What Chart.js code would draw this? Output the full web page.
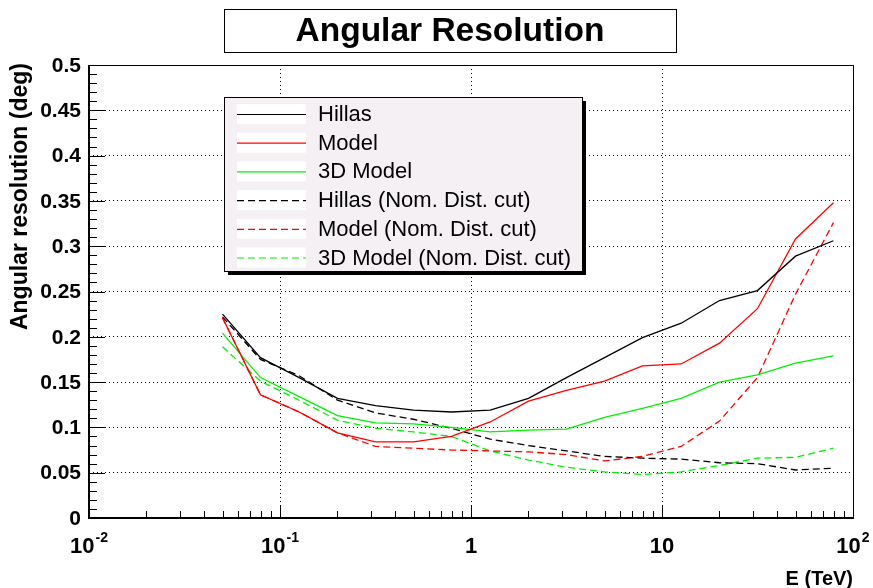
<!DOCTYPE html>
<html>
<head>
<meta charset="utf-8">
<script src="https://cdn.jsdelivr.net/npm/chart.js@4.4.0/dist/chart.umd.min.js"></script>
<style>
  html, body { margin: 0; padding: 0; background: #fff; }
  canvas { display: block; }
</style>
</head>
<body>
<canvas id="chart" width="873" height="588"></canvas>
<script>
// energy bins (TeV), 5 per decade
const energies = [0.05, 0.079, 0.126, 0.2, 0.316, 0.5, 0.79, 1.26, 2, 3.16, 5, 7.9, 12.6, 20, 31.6, 50, 79];

const hillas      = [0.225, 0.177, 0.155, 0.132, 0.124, 0.119, 0.117, 0.119, 0.132, 0.155, 0.177, 0.199, 0.215, 0.240, 0.251, 0.289, 0.306];
const model       = [0.221, 0.136, 0.117, 0.094, 0.084, 0.084, 0.090, 0.106, 0.129, 0.141, 0.151, 0.168, 0.170, 0.193, 0.231, 0.308, 0.348];
const model3d     = [0.204, 0.155, 0.134, 0.113, 0.105, 0.104, 0.100, 0.095, 0.097, 0.098, 0.111, 0.121, 0.132, 0.150, 0.158, 0.171, 0.179];
const hillasCut   = [0.222, 0.175, 0.157, 0.130, 0.116, 0.109, 0.099, 0.087, 0.080, 0.074, 0.068, 0.066, 0.065, 0.061, 0.060, 0.053, 0.055];
const modelCut    = [0.221, 0.136, 0.117, 0.094, 0.079, 0.077, 0.075, 0.074, 0.073, 0.070, 0.063, 0.068, 0.079, 0.107, 0.155, 0.247, 0.326];
const model3dCut  = [0.189, 0.151, 0.130, 0.108, 0.099, 0.095, 0.090, 0.074, 0.064, 0.056, 0.051, 0.048, 0.051, 0.058, 0.066, 0.067, 0.077];

const seriesNames = ['Hillas', 'Model', '3D Model', 'Hillas (Nom. Dist. cut)', 'Model (Nom. Dist. cut)', '3D Model (Nom. Dist. cut)'];

const yTicks = [0, 0.05, 0.1, 0.15, 0.2, 0.25, 0.3, 0.35, 0.4, 0.45, 0.5];
const yTickLabels = ['0', '0.05', '0.1', '0.15', '0.2', '0.25', '0.3', '0.35', '0.4', '0.45', '0.5'];
const xTicks = [0.01, 0.1, 1, 10, 100];
const xTickLabels = [['10', '-2'], ['10', '-1'], ['1', ''], ['10', ''], ['10', '2']];

const DASH = [7, 4];

function pts(vals) {
    return energies.map((e, i) => ({ x: e, y: vals[i] }));
}

function line(label, vals, color, dashed) {
    return {
        label: label,
        data: pts(vals),
        borderColor: color,
        borderWidth: 1.3,
        borderDash: dashed ? DASH : [],
        pointRadius: 0,
        fill: false,
        tension: 0
    };
}

const rootStyle = {
    id: 'rootStyle',
    beforeDraw(chart) {
        const ctx = chart.ctx;
        ctx.save();
        ctx.fillStyle = '#fff';
        ctx.fillRect(0, 0, chart.width, chart.height);
        ctx.restore();
    },
    afterDraw(chart) {
        const ctx = chart.ctx;
        const xs = chart.scales.x, ys = chart.scales.y;
        const a = chart.chartArea;
        ctx.save();

        // frame
        ctx.strokeStyle = '#000';
        ctx.lineWidth = 1;
        ctx.strokeRect(Math.round(a.left) + 0.5, Math.round(a.top) + 0.5,
                       Math.round(a.right - a.left), Math.round(a.bottom - a.top));
        ctx.lineWidth = 2;
        ctx.beginPath();
        ctx.moveTo(a.left, a.top);
        ctx.lineTo(a.left, a.bottom);
        ctx.lineTo(a.right, a.bottom);
        ctx.stroke();

        // tick marks
        ctx.lineWidth = 1;
        ctx.beginPath();
        for (let i = 0; i < yTicks.length; i++) {
            const y = Math.round(ys.getPixelForValue(yTicks[i])) + 0.5;
            ctx.moveTo(a.left, y); ctx.lineTo(a.left + 16, y);
            if (i < yTicks.length - 1) {
                const step = (yTicks[i + 1] - yTicks[i]) / 5;
                for (let k = 1; k < 5; k++) {
                    const ym = Math.round(ys.getPixelForValue(yTicks[i] + k * step)) + 0.5;
                    ctx.moveTo(a.left, ym); ctx.lineTo(a.left + 8, ym);
                }
            }
        }
        for (let i = 0; i < xTicks.length; i++) {
            const x = Math.round(xs.getPixelForValue(xTicks[i])) + 0.5;
            ctx.moveTo(x, a.bottom); ctx.lineTo(x, a.bottom - 13);
            if (i < xTicks.length - 1) {
                for (let m = 2; m < 10; m++) {
                    const xm = Math.round(xs.getPixelForValue(xTicks[i] * m)) + 0.5;
                    ctx.moveTo(xm, a.bottom); ctx.lineTo(xm, a.bottom - 7);
                }
            }
        }
        ctx.stroke();

        // tick labels
        ctx.fillStyle = '#000';
        ctx.font = 'bold 21px "Liberation Sans", Arial, sans-serif';
        ctx.textAlign = 'right';
        ctx.textBaseline = 'middle';
        yTicks.forEach((v, i) => {
            ctx.fillText(yTickLabels[i], a.left - 8, ys.getPixelForValue(v) + 1);
        });
        const baseFont = 'bold 22px "Liberation Sans", Arial, sans-serif';
        const supFont = 'bold 14px "Liberation Sans", Arial, sans-serif';
        ctx.textAlign = 'left';
        ctx.textBaseline = 'alphabetic';
        xTicks.forEach((v, i) => {
            const [base, sup] = xTickLabels[i];
            ctx.font = baseFont;
            const wb = ctx.measureText(base).width;
            ctx.font = supFont;
            const ws = sup ? ctx.measureText(sup).width + 1 : 0;
            const x0 = xs.getPixelForValue(v) - (wb + ws) / 2;
            const yb = a.bottom + 35;
            ctx.font = baseFont;
            ctx.fillText(base, x0, yb);
            if (sup) {
                ctx.font = supFont;
                ctx.fillText(sup, x0 + wb + 1, yb - 11);
            }
        });

        // axis titles
        ctx.font = 'bold 20px "Liberation Sans", Arial, sans-serif';
        ctx.textAlign = 'right';
        ctx.fillText('E (TeV)', a.right, a.bottom + 67);
        ctx.save();
        ctx.translate(27, a.top - 2);
        ctx.rotate(-Math.PI / 2);
        ctx.textAlign = 'right';
        ctx.font = 'bold 23px "Liberation Sans", Arial, sans-serif';
        ctx.fillText('Angular resolution (deg)', 0, 0);
        ctx.restore();

        // title box
        ctx.fillStyle = '#fff';
        ctx.fillRect(224, 9, 452, 43);
        ctx.strokeStyle = '#000';
        ctx.lineWidth = 1;
        ctx.strokeRect(224.5, 9.5, 452, 43);
        ctx.fillStyle = '#000';
        ctx.font = 'bold 33.5px "Liberation Sans", Arial, sans-serif';
        ctx.textAlign = 'center';
        ctx.textBaseline = 'middle';
        ctx.fillText('Angular Resolution', 450, 32);

        // legend
        const lx = 224, ly = 97, lw = 358, lh = 174;
        ctx.fillStyle = '#000';
        ctx.fillRect(lx + 4, ly + 4, lw, lh);
        ctx.fillStyle = '#f4f0f4';
        ctx.fillRect(lx, ly, lw, lh);
        ctx.strokeRect(lx + 0.5, ly + 0.5, lw, lh);
        ctx.font = '22px "Liberation Sans", Arial, sans-serif';
        ctx.textAlign = 'left';
        chart.data.datasets.forEach((ds, i) => {
            const cy = ly + 17 + i * 28.7;
            ctx.fillStyle = '#fff';
            ctx.fillRect(lx + 13, cy - 10, 69, 20);
            ctx.strokeStyle = ds.borderColor;
            ctx.lineWidth = 1.2;
            ctx.setLineDash(ds.borderDash);
            ctx.beginPath();
            ctx.moveTo(lx + 13, cy + 0.5);
            ctx.lineTo(lx + 82, cy + 0.5);
            ctx.stroke();
            ctx.setLineDash([]);
            ctx.fillStyle = '#000';
            ctx.fillText(ds.label, lx + 94, cy + 1);
        });

        ctx.restore();
    }
};

new Chart(document.getElementById('chart').getContext('2d'), {
    type: 'line',
    data: {
        datasets: [
            line(seriesNames[0], hillas, '#000000', false),
            line(seriesNames[1], model, '#ff0000', false),
            line(seriesNames[2], model3d, '#00f000', false),
            line(seriesNames[3], hillasCut, '#000000', true),
            line(seriesNames[4], modelCut, '#ff0000', true),
            line(seriesNames[5], model3dCut, '#00f000', true)
        ]
    },
    options: {
        responsive: false,
        animation: false,
        events: [],
        layout: { padding: { left: 89, right: 20, top: 65, bottom: 70 } },
        plugins: {
            legend: { display: false },
            title: { display: false },
            tooltip: { enabled: false }
        },
        scales: {
            x: {
                type: 'logarithmic',
                min: 0.01,
                max: 100,
                afterBuildTicks: s => { s.ticks = xTicks.map(v => ({ value: v })); },
                ticks: { display: false },
                grid: { color: '#000', lineWidth: 1, drawTicks: false },
                border: { display: false, dash: [1, 3] }
            },
            y: {
                type: 'linear',
                min: 0,
                max: 0.5,
                afterBuildTicks: s => { s.ticks = yTicks.map(v => ({ value: v })); },
                ticks: { display: false },
                grid: { color: '#000', lineWidth: 1, drawTicks: false },
                border: { display: false, dash: [1, 3] }
            }
        }
    },
    plugins: [rootStyle]
});
</script>
</body>
</html>
